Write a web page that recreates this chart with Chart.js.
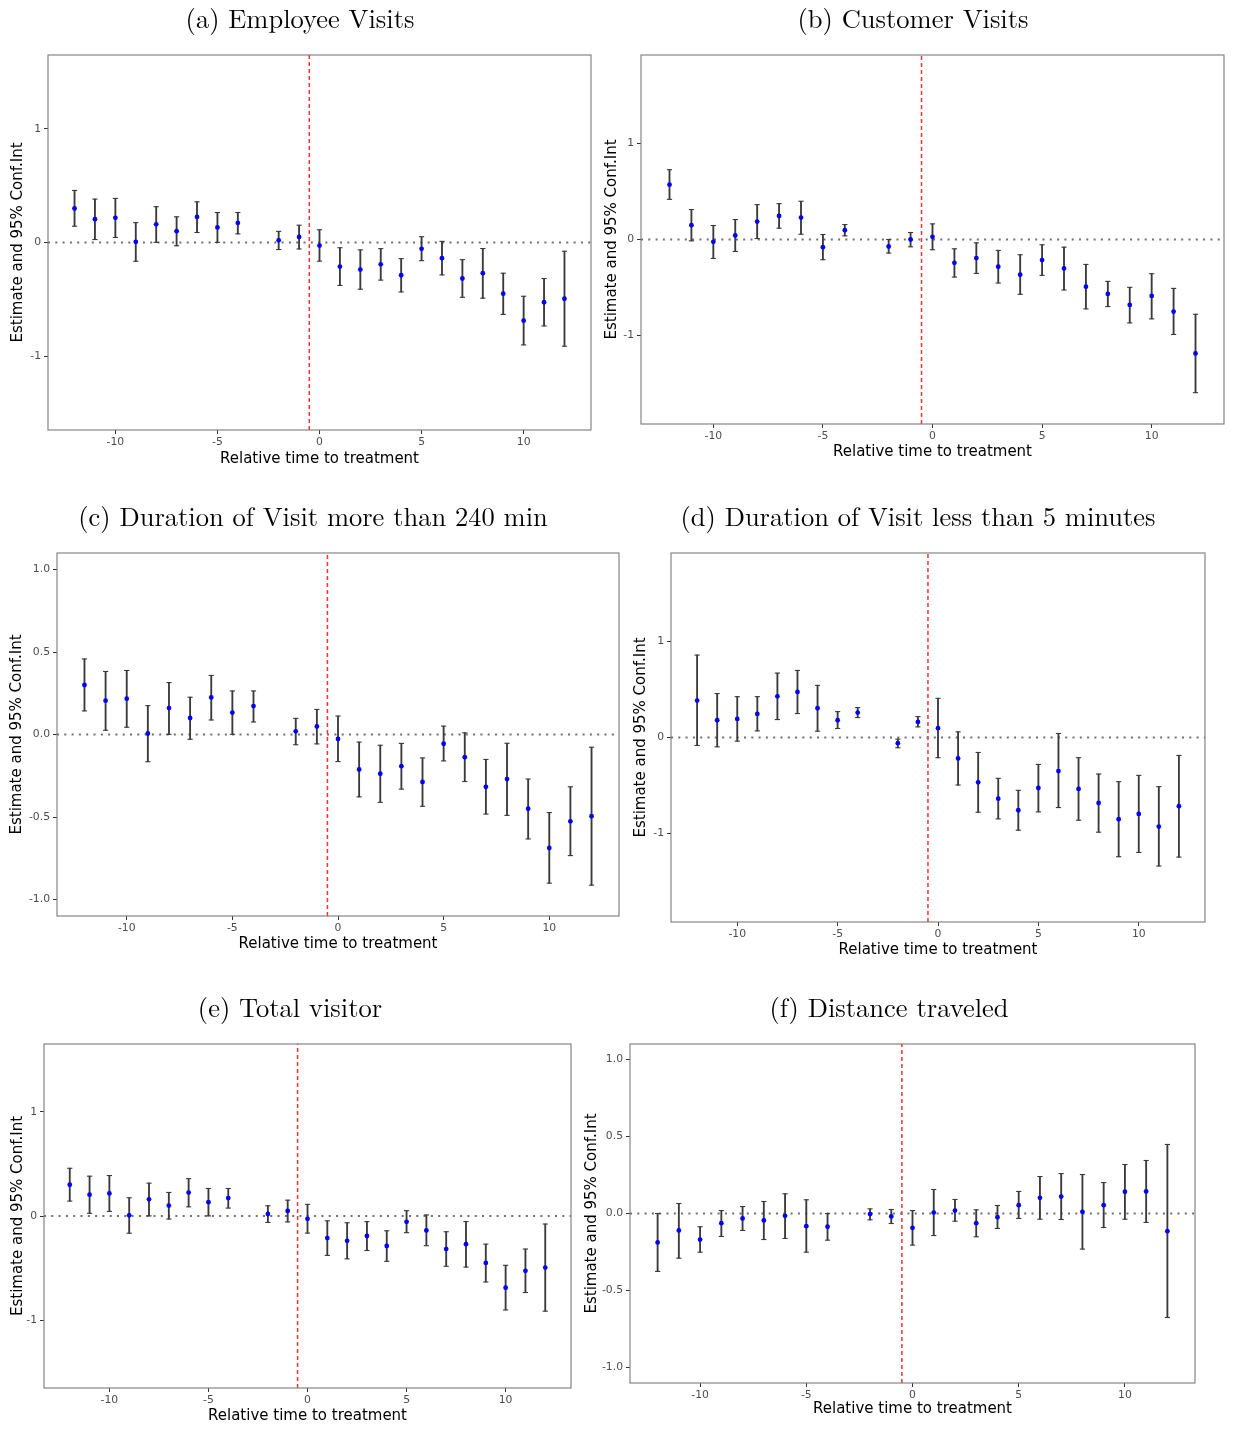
<!DOCTYPE html>
<html>
<head>
<meta charset="utf-8">
<script src="https://cdn.jsdelivr.net/npm/chart.js@4.4.1/dist/chart.umd.min.js"></script>
<style>
  html, body { margin: 0; padding: 0; background: #fff; }
  body { width: 1233px; height: 1429px; position: relative; overflow: hidden; }
</style>
</head>
<body>
<script>
// ---- data ----
// event-time periods; -3 is the omitted reference period
const periods = [-12, -11, -10, -9, -8, -7, -6, -5, -4, -2, -1, 0, 1, 2, 3, 4, 5, 6, 7, 8, 9, 10, 11, 12];

// (a), (c) and (e) show the same estimates
const visitsEst = [0.300, 0.205, 0.217, 0.006, 0.160, 0.100, 0.225, 0.133, 0.172, 0.019, 0.049, -0.027, -0.212, -0.238, -0.192, -0.288, -0.056, -0.138, -0.317, -0.270, -0.450, -0.688, -0.526, -0.495];
const visitsLo  = [0.143, 0.026, 0.044, -0.165, 0.001, -0.029, 0.088, 0.001, 0.076, -0.062, -0.057, -0.164, -0.378, -0.411, -0.331, -0.435, -0.160, -0.285, -0.482, -0.490, -0.633, -0.901, -0.734, -0.913];
const visitsHi  = [0.458, 0.382, 0.388, 0.175, 0.315, 0.226, 0.358, 0.264, 0.264, 0.098, 0.152, 0.112, -0.046, -0.065, -0.054, -0.142, 0.051, 0.010, -0.151, -0.053, -0.270, -0.473, -0.317, -0.077];

const customerEst = [0.572, 0.149, -0.024, 0.042, 0.187, 0.246, 0.229, -0.080, 0.097, -0.073, 0.000, 0.028, -0.243, -0.194, -0.284, -0.367, -0.215, -0.302, -0.492, -0.568, -0.683, -0.589, -0.752, -1.189];
const customerLo  = [0.419, -0.014, -0.198, -0.125, 0.010, 0.118, 0.055, -0.211, 0.038, -0.142, -0.076, -0.107, -0.392, -0.354, -0.454, -0.572, -0.374, -0.527, -0.724, -0.700, -0.870, -0.828, -0.991, -1.598];
const customerHi  = [0.728, 0.312, 0.146, 0.208, 0.364, 0.374, 0.399, 0.052, 0.156, 0.000, 0.073, 0.163, -0.097, -0.035, -0.114, -0.159, -0.055, -0.080, -0.260, -0.437, -0.499, -0.357, -0.510, -0.780];

const shortEst = [0.385, 0.180, 0.194, 0.246, 0.430, 0.475, 0.305, 0.180, 0.260, -0.059, 0.163, 0.097, -0.218, -0.468, -0.638, -0.759, -0.527, -0.350, -0.537, -0.683, -0.853, -0.797, -0.929, -0.717];
const shortLo  = [-0.083, -0.097, -0.038, 0.069, 0.187, 0.250, 0.066, 0.094, 0.208, -0.107, 0.111, -0.211, -0.496, -0.780, -0.849, -0.967, -0.776, -0.731, -0.863, -0.988, -1.244, -1.199, -1.341, -1.248];
const shortHi  = [0.860, 0.458, 0.426, 0.426, 0.672, 0.700, 0.544, 0.270, 0.312, -0.017, 0.218, 0.409, 0.059, -0.156, -0.426, -0.551, -0.281, 0.042, -0.211, -0.381, -0.461, -0.395, -0.513, -0.187];

const distEst = [-0.188, -0.110, -0.169, -0.063, -0.032, -0.045, -0.015, -0.082, -0.086, -0.004, -0.019, -0.093, 0.006, 0.019, -0.063, -0.024, 0.054, 0.102, 0.110, 0.011, 0.054, 0.141, 0.143, -0.115];
const distLo  = [-0.376, -0.290, -0.251, -0.149, -0.110, -0.169, -0.162, -0.251, -0.173, -0.041, -0.065, -0.205, -0.143, -0.050, -0.151, -0.097, -0.032, -0.037, -0.039, -0.231, -0.091, -0.037, -0.058, -0.675];
const distHi  = [0.000, 0.065, -0.086, 0.019, 0.045, 0.078, 0.128, 0.089, 0.000, 0.030, 0.026, 0.019, 0.156, 0.091, 0.024, 0.052, 0.143, 0.240, 0.259, 0.253, 0.201, 0.318, 0.344, 0.448];

const xTickValues = [-10, -5, 0, 5, 10];
const yTicksWide = [-1, 0, 1];
const yTicksHalf = [-1, -0.5, 0, 0.5, 1];
const xLimit = 13.3;
const zeroLevel = 0;
const treatmentCut = -0.5;

const X_TITLE = 'Relative time to treatment';
const Y_TITLE = 'Estimate and 95% Conf.Int';

// ---- panels: data + where each plot box sits on the page ----
const panels = [
  { title: '(a) Employee Visits', est: visitsEst, lo: visitsLo, hi: visitsHi, yLim: 1.65, yTicks: yTicksWide, dec: 0,
    box: [48, 55, 591, 430], titleCX: 300, titleCY: 20, yTitleCX: 17, xTitleCY: 459 },
  { title: '(b) Customer Visits', est: customerEst, lo: customerLo, hi: customerHi, yLim: 1.925, yTicks: yTicksWide, dec: 0,
    box: [641, 55, 1224, 424], titleCX: 913, titleCY: 20, yTitleCX: 612, xTitleCY: 452 },
  { title: '(c) Duration of Visit more than 240 min', est: visitsEst, lo: visitsLo, hi: visitsHi, yLim: 1.1, yTicks: yTicksHalf, dec: 1,
    box: [57, 553, 619, 916], titleCX: 313, titleCY: 518, yTitleCX: 17, xTitleCY: 944 },
  { title: '(d) Duration of Visit less than 5 minutes', est: shortEst, lo: shortLo, hi: shortHi, yLim: 1.925, yTicks: yTicksWide, dec: 0,
    box: [671, 553, 1205, 922], titleCX: 918, titleCY: 518, yTitleCX: 641, xTitleCY: 950 },
  { title: '(e) Total visitor', est: visitsEst, lo: visitsLo, hi: visitsHi, yLim: 1.65, yTicks: yTicksWide, dec: 0,
    box: [44, 1044, 571, 1388], titleCX: 290, titleCY: 1009, yTitleCX: 16, xTitleCY: 1416 },
  { title: '(f) Distance traveled', est: distEst, lo: distLo, hi: distHi, yLim: 1.1, yTicks: yTicksHalf, dec: 1,
    box: [630, 1044, 1195, 1383], titleCX: 889, titleCY: 1009, yTitleCX: 592, xTitleCY: 1409 }
];

// full panel border (ggplot theme_bw style)
const boxBorder = {
  id: 'boxBorder',
  afterDraw(chart) {
    const { ctx, chartArea: a } = chart;
    ctx.save();
    ctx.strokeStyle = '#7a7a7a';
    ctx.lineWidth = 1.1;
    ctx.strokeRect(a.left, a.top, a.right - a.left, a.bottom - a.top);
    ctx.restore();
  }
};

const SANS = 'DejaVu Sans';
const TITLE_SIZE = 26.5, TITLE_LH = TITLE_SIZE * 1.2;
const AXIS_TITLE_SIZE = 15, AXIS_TITLE_LH = AXIS_TITLE_SIZE * 1.2;
const tickFont = { family: SANS, size: 10.8 };
const tickGrid = { drawOnChartArea: false, drawTicks: true, tickLength: 4, color: '#333333', lineWidth: 1, offset: false };

function makePanel(p) {
  const [boxL, boxT, boxR, boxB] = p.box;
  const axisStart = 2 * p.titleCX - boxR;   // title is centred over [axisStart, boxR]
  const padR = 6;
  const top = p.titleCY - 18;
  const W = boxR - axisStart + padR;
  const xScaleH = p.xTitleCY - boxB + 3 + AXIS_TITLE_LH / 2;
  const H = boxB - top + xScaleH;
  const titlePadTop = p.titleCY - top - TITLE_LH / 2;
  const titlePadBottom = boxT - top - titlePadTop - TITLE_LH;
  const yTitlePad = Math.max(0, p.yTitleCX - axisStart - AXIS_TITLE_LH / 2);

  const cv = document.createElement('canvas');
  cv.width = W; cv.height = H;
  cv.style.cssText = `position:absolute;left:${axisStart}px;top:${top}px;width:${W}px;height:${H}px`;
  document.body.appendChild(cv);

  new Chart(cv.getContext('2d'), {
    type: 'bar',
    data: {
      datasets: [
        { // 95% CI whiskers
          type: 'bar', order: 2,
          data: periods.map((t, i) => ({ x: t, y: [p.lo[i], p.hi[i]] })),
          backgroundColor: '#3a3a3a', borderWidth: 0, barThickness: 1.2
        },
        { // whisker caps
          type: 'scatter', order: 1,
          data: periods.flatMap((t, i) => [{ x: t, y: p.lo[i] }, { x: t, y: p.hi[i] }]),
          pointStyle: 'line', pointRadius: 2.6, borderColor: '#3a3a3a', borderWidth: 1.1, pointHoverRadius: 0
        },
        { // point estimates
          type: 'scatter', order: 0,
          data: periods.map((t, i) => ({ x: t, y: p.est[i] })),
          pointRadius: 2.4, backgroundColor: '#0000ff', borderWidth: 0, pointHoverRadius: 0
        },
        { // zero reference
          type: 'line', order: 3,
          data: [{ x: -xLimit, y: zeroLevel }, { x: xLimit, y: zeroLevel }],
          borderColor: '#707070', borderWidth: 1.9, borderDash: [2, 5.3], pointRadius: 0, fill: false
        },
        { // treatment onset
          type: 'line', order: 3,
          data: [{ x: treatmentCut, y: -p.yLim }, { x: treatmentCut, y: p.yLim }],
          borderColor: '#ff3030', borderWidth: 1.5, borderDash: [4, 3], pointRadius: 0, fill: false
        }
      ]
    },
    options: {
      responsive: false, animation: false, events: [],
      layout: { padding: { left: 0, right: padR, top: 0, bottom: 0 }, autoPadding: false },
      plugins: {
        legend: { display: false },
        tooltip: { enabled: false },
        title: {
          display: true, text: p.title, color: '#000',
          font: { family: 'Latin Modern Roman, CMU Serif, Liberation Serif', size: TITLE_SIZE, weight: 'normal', lineHeight: 1.2 },
          padding: { top: titlePadTop, bottom: titlePadBottom }
        }
      },
      scales: {
        x: {
          type: 'linear', min: -xLimit, max: xLimit, offset: false,
          afterBuildTicks: s => { s.ticks = xTickValues.map(v => ({ value: v })); },
          afterFit: s => { s.height = xScaleH; },
          grid: tickGrid, border: { display: false },
          ticks: { font: tickFont, color: '#4d4d4d', padding: 2, maxRotation: 0, autoSkip: false, callback: v => String(v) },
          title: { display: true, text: X_TITLE, color: '#000', font: { family: SANS, size: AXIS_TITLE_SIZE }, padding: { top: 0, bottom: 3 } }
        },
        y: {
          type: 'linear', min: -p.yLim, max: p.yLim, beginAtZero: false,
          afterBuildTicks: s => { s.ticks = p.yTicks.map(v => ({ value: v })); },
          afterFit: s => { s.width = boxL - axisStart; },
          grid: tickGrid, border: { display: false },
          ticks: { font: tickFont, color: '#4d4d4d', padding: 3, callback: v => Number(v).toFixed(p.dec) },
          title: { display: true, text: Y_TITLE, color: '#000', font: { family: SANS, size: AXIS_TITLE_SIZE }, padding: { top: yTitlePad, bottom: 0 } }
        }
      }
    },
    plugins: [boxBorder]
  });
}

panels.forEach(makePanel);
</script>
</body>
</html>
